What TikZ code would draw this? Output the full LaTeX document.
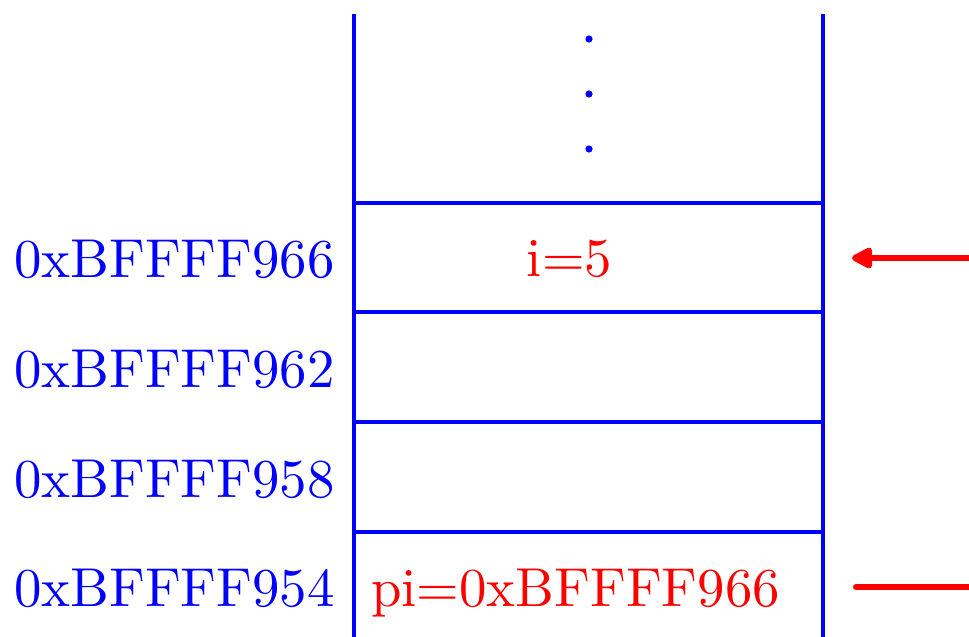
\documentclass[tikz,border=0pt]{standalone}
\usepackage{graphicx}
\usetikzlibrary{arrows.meta}
\newcommand{\bigtxt}[1]{\scalebox{2.74}{\fontsize{10}{12}\selectfont #1}}
\begin{document}
\begin{tikzpicture}[x=0.5pt,y=-0.5pt,
  wall/.style={draw=blue,line width=1.6pt},
  addr/.style={text=blue,anchor=base east,inner sep=0pt},
  val/.style={text=red,anchor=base,inner sep=0pt},
  ptr/.style={draw=red,line width=3pt,line cap=round},
  dotm/.style={fill=blue,circle,inner sep=0pt,minimum size=3.6pt}]
\useasboundingbox (0,0) rectangle (969,637);
% walls
\coordinate (tl) at (354,14);
\coordinate (bl) at (354,640);
\coordinate (tr) at (823,14);
\coordinate (br) at (823,640);
\draw[wall] (tl) -- (bl);
\draw[wall] (tr) -- (br);
\foreach \y/\n in {203/a,312/b,422/c,532/d}{
  \coordinate (l\n) at (354,\y);
  \coordinate (r\n) at (823,\y);
  \draw[wall] (l\n) -- (r\n);
}
% dots
\node[dotm] (d1) at (589,39) {};
\node[dotm] (d2) at (589,94) {};
\node[dotm] (d3) at (589,149) {};
% addresses
\node[addr] (a1) at (335,277) {\bigtxt{0xBFFFF966}};
\node[addr] (a2) at (335,387) {\bigtxt{0xBFFFF962}};
\node[addr] (a3) at (335,497) {\bigtxt{0xBFFFF958}};
\node[addr] (a4) at (335,606) {\bigtxt{0xBFFFF954}};
% values
\node[val] (v1) at (569.5,276) {\bigtxt{i=5}};
\node[val] (v2) at (575.5,606) {\bigtxt{pi=0xBFFFF966}};
% pointers
\coordinate (p1s) at (969,258);
\coordinate (p1e) at (852,258);
\draw[ptr,-{Triangle[length=12pt,width=11.5pt,round]}] (p1s) -- (p1e);
\coordinate (p2s) at (969,587);
\coordinate (p2e) at (856,587);
\draw[ptr] (p2s) -- (p2e);
\end{tikzpicture}
\end{document}
